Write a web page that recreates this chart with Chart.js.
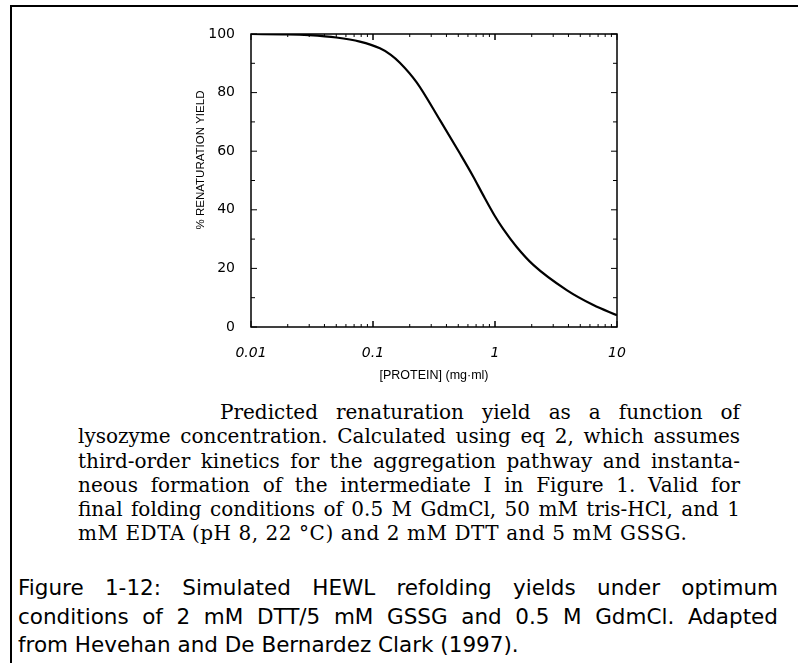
<!DOCTYPE html>
<html>
<head>
<meta charset="utf-8">
<script src="https://cdn.jsdelivr.net/npm/chart.js@4.4.1/dist/chart.umd.min.js"></script>
<style>
  html, body { margin: 0; padding: 0; background: #fff; }
  #page { position: relative; width: 798px; height: 663px; overflow: hidden; background: #fff; }
  #frameTop { position: absolute; left: 10px; top: 5px; width: 800px; height: 2px; background: #000; }
  #frameLeft { position: absolute; left: 10px; top: 5px; width: 2px; height: 700px; background: #000; }
  #cv { position: absolute; left: 0; top: 0; }
  .serif { position: absolute; font-family: "DejaVu Serif", serif; font-size: 20px; color: #000; }
  .serif div { height: 24.3px; line-height: 24.3px; white-space: nowrap; text-align: justify; text-align-last: justify; }
  .sans { position: absolute; font-family: "DejaVu Sans", sans-serif; font-size: 21.5px; color: #000; }
  .sans div { height: 28.6px; line-height: 28.6px; white-space: nowrap; text-align: justify; text-align-last: justify; }
  .last { text-align-last: left !important; }
</style>
</head>
<body>
<div id="page">
  <div id="frameTop"></div>
  <div id="frameLeft"></div>
  <canvas id="cv" width="798" height="395"></canvas>
  <div class="serif" style="left:78px; top:400px; width:662px;">
    <div style="padding-left:142px;">Predicted renaturation yield as a function of</div>
    <div>lysozyme concentration. Calculated using eq 2, which assumes</div>
    <div>third-order kinetics for the aggregation pathway and instanta-</div>
    <div>neous formation of the intermediate I in Figure 1. Valid for</div>
    <div>final folding conditions of 0.5 M GdmCl, 50 mM tris-HCl, and 1</div>
    <div class="last" style="letter-spacing:0.55px;">mM EDTA (pH 8, 22 °C) and 2 mM DTT and 5 mM GSSG.</div>
  </div>
  <div class="sans" style="left:18px; top:574px; width:760px;">
    <div>Figure 1-12: Simulated HEWL refolding yields under optimum</div>
    <div>conditions of 2 mM DTT/5 mM GSSG and 0.5 M GdmCl. Adapted</div>
    <div class="last">from Hevehan and De Bernardez Clark (1997).</div>
  </div>
</div>
<script>
// ---- data ----
const proteinConc = [0.01, 0.02, 0.03, 0.05, 0.078, 0.114, 0.14, 0.166, 0.228, 0.354, 0.516, 0.664, 0.8, 1.0, 1.17, 1.5, 2.06, 3.87, 6.4, 10];
const renatYield  = [100, 99.9, 99.6, 98.8, 97.4, 95.1, 92.9, 90.2, 83.5, 70.6, 59.2, 51.3, 45.0, 37.8, 33.4, 27.4, 21.2, 12.6, 7.5, 4.0];
const xTickValues = [0.01, 0.1, 1, 10];
const xTickLabels = ['0.01', '0.1', '1', '10'];
const yTickValues = [0, 20, 40, 60, 80, 100];
const xTitle = '[PROTEIN] (mg\u00B7ml)';
const yTitle = '% RENATURATION YIELD';

const points = proteinConc.map((x, i) => ({ x: x, y: renatYield[i] }));

const framePlugin = {
  id: 'framePlugin',
  afterDraw(chart) {
    const ctx = chart.ctx;
    const a = chart.chartArea;
    const xs = chart.scales.x, ys = chart.scales.y;
    ctx.save();
    ctx.strokeStyle = '#000';
    ctx.lineWidth = 1.5;
    ctx.strokeRect(a.left, a.top, a.right - a.left, a.bottom - a.top);
    ctx.lineWidth = 1;
    ctx.beginPath();
    for (let v = 0; v <= 100; v += 10) {
      const py = ys.getPixelForValue(v);
      const len = (v % 20 === 0) ? 6 : 4;
      ctx.moveTo(a.left, py); ctx.lineTo(a.left + len, py);
      ctx.moveTo(a.right, py); ctx.lineTo(a.right - len, py);
    }
    for (let d = 0.01; d < 10; d *= 10) {
      for (let m = 1; m <= 10; m++) {
        const v = d * m;
        if (v > 10.0001) continue;
        const px = xs.getPixelForValue(v);
        const len = (m === 1 || m === 10) ? 6 : 3;
        ctx.moveTo(px, a.bottom); ctx.lineTo(px, a.bottom - len);
        ctx.moveTo(px, a.top); ctx.lineTo(px, a.top + len);
      }
    }
    ctx.stroke();
    ctx.fillStyle = '#000';
    ctx.textAlign = 'center';
    ctx.textBaseline = 'middle';
    ctx.font = '12.5px "Liberation Sans", Arial, sans-serif';
    ctx.fillText(xTitle, (a.left + a.right) / 2, a.bottom + 49);
    ctx.font = '11.5px "Liberation Sans", Arial, sans-serif';
    ctx.translate(a.left - 50, a.top + 126);
    ctx.rotate(-Math.PI / 2);
    ctx.fillText(yTitle, 0, 0);
    ctx.restore();
  }
};

new Chart(document.getElementById('cv'), {
  type: 'line',
  data: {
    datasets: [{
      data: points,
      borderColor: '#000',
      borderWidth: 2.2,
      pointRadius: 0,
      fill: false,
      cubicInterpolationMode: 'monotone'
    }]
  },
  options: {
    responsive: false,
    animation: false,
    devicePixelRatio: 1,
    layout: { padding: { top: 34, right: 181, bottom: 0, left: 0 } },
    plugins: { legend: { display: false }, tooltip: { enabled: false }, title: { display: false } },
    scales: {
      x: {
        type: 'logarithmic',
        min: 0.01, max: 10,
        afterBuildTicks: (s) => { s.ticks = xTickValues.map(v => ({ value: v })); },
        afterFit: (s) => { s.height = 68; },
        grid: { display: false, drawTicks: false },
        border: { display: false },
        ticks: {
          autoSkip: false, maxRotation: 0, padding: 18, color: '#000',
          font: { family: '"DejaVu Sans", sans-serif', size: 14, style: 'italic' },
          callback: (v) => { const i = xTickValues.findIndex(t => Math.abs(t - v) < 1e-9); return i >= 0 ? xTickLabels[i] : ''; }
        }
      },
      y: {
        type: 'linear',
        min: 0, max: 100,
        afterBuildTicks: (s) => { s.ticks = yTickValues.map(v => ({ value: v })); },
        afterFit: (s) => { s.width = 251; },
        grid: { display: false, drawTicks: false },
        border: { display: false },
        ticks: {
          padding: 16, color: '#000',
          font: { family: '"DejaVu Sans", sans-serif', size: 14 }
        }
      }
    }
  },
  plugins: [framePlugin]
});
</script>
</body>
</html>
